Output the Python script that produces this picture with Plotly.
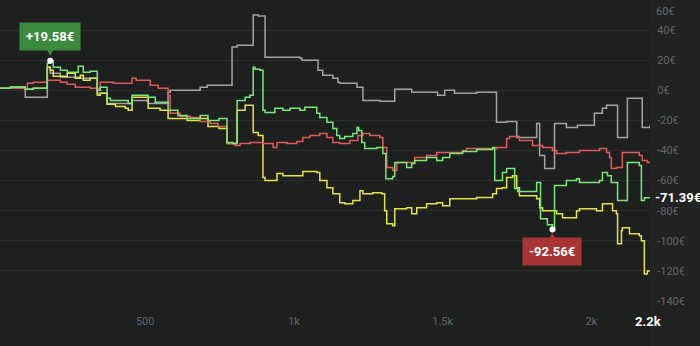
import plotly.graph_objects as go

# ---- data (x = trade index, y = cumulative P/L in €) ----
x_green = [13, 47, 97, 124, 171, 181, 191, 215, 238, 275, 292, 315, 339, 349, 372, 383, 443, 456, 510, 534,
           577, 610, 641, 685, 711, 748, 775, 795, 809, 836, 852, 863, 869, 886, 896, 903, 936, 963, 987, 1020,
           1037, 1077, 1087, 1111, 1131, 1144, 1154, 1171, 1198, 1212, 1218, 1228, 1238, 1279, 1299, 1309, 1332,
           1339, 1379, 1396, 1406, 1446, 1480, 1500, 1524, 1567, 1614, 1668, 1675, 1701, 1715, 1742, 1752, 1816,
           1829, 1852, 1869, 1876, 1916, 1950, 1960, 2027, 2037, 2054, 2067, 2088, 2121, 2161, 2168, 2178, 2197]
y_green = [1.3, 2, 0.7, 1.3, 18, 19.58, 15.3, 13.3, 12, 16, 12, 12.7, 0, 2, -5.3, -6.7, -8.7, -3.3, -4.7, -8,
           -13.3, -16.7, -18.7, -16.7, -20, -18.7, -34.7, -35.3, -6.7, -4.7, -3.3, 15.3, 14, 13.3, -13.3, -14.7,
           -12, -13.3, -12, -13.3, -11.3, -15.3, -18, -21.3, -25.3, -30, -32, -30.7, -28.7, -24.7, -26.7, -34.7,
           -38.7, -38, -42, -58.7, -57.3, -48, -51.3, -48.7, -46.7, -44.7, -46.7, -44.7, -42, -40.7, -39.3, -38,
           -60, -54.7, -52, -65.3, -67.3, -61.3, -85.3, -89.3, -92.56, -63.3, -60, -58.7, -61.3, -60, -54.7,
           -56.7, -61.3, -73.3, -48, -50, -73.3, -71.39, -71.39]

x_red = [13, 104, 124, 171, 215, 238, 265, 315, 349, 393, 456, 470, 517, 544, 577, 584, 617, 651, 685, 718,
         745, 775, 802, 819, 852, 896, 930, 943, 977, 1010, 1030, 1054, 1087, 1111, 1131, 1154, 1188, 1215,
         1232, 1255, 1289, 1299, 1312, 1332, 1346, 1389, 1406, 1446, 1480, 1567, 1580, 1681, 1715, 1725, 1758,
         1802, 1836, 1869, 1883, 1916, 1960, 2027, 2051, 2061, 2067, 2084, 2104, 2138, 2161, 2171, 2188, 2197]
y_red = [1.3, 4.7, 5.3, 6.7, 5.3, 4, 2, 1.3, 5.3, 4.7, 8, 6.7, 3.3, 1.3, -3.3, -15.3, -17.3, -18, -20.7, -22,
         -24, -35.3, -36.7, -35.3, -34.7, -35.3, -38, -34.7, -35.3, -34, -31.3, -30, -28.7, -31.3, -34.7, -35.3,
         -33.3, -30, -28.7, -30, -31.3, -38, -51.3, -53.3, -48, -48, -44.7, -43.3, -41.3, -40, -38.7, -38, -32,
         -30.7, -33.3, -36.7, -38, -40, -42, -41.3, -40, -38.7, -41.3, -44.7, -52, -51.3, -41.3, -41.3, -43.3,
         -46.7, -48, -47]

x_yellow = [13, 47, 97, 124, 171, 181, 191, 238, 265, 282, 292, 315, 339, 349, 372, 400, 433, 443, 456, 510,
            550, 577, 641, 685, 711, 748, 775, 809, 836, 863, 880, 896, 903, 943, 963, 1030, 1077, 1087, 1111,
            1131, 1154, 1171, 1198, 1222, 1232, 1265, 1295, 1305, 1312, 1332, 1339, 1379, 1396, 1413, 1446, 1480,
            1500, 1524, 1614, 1668, 1681, 1701, 1715, 1735, 1749, 1758, 1816, 1826, 1836, 1883, 1903, 1950, 1960,
            2017, 2037, 2071, 2084, 2088, 2101, 2104, 2128, 2161, 2168, 2178, 2188, 2197]
y_yellow = [1.3, 2, 0.7, 1.3, 15.3, 13.3, 9.3, 11.3, 8, 10, 6.7, 8, -3.3, -2, -9.3, -10.7, -12, -13.3, -4.7,
            -12, -13.3, -18.7, -20, -18.7, -24, -25.3, -35.3, -13.3, -10, -28, -30, -58, -60, -55.3, -56.7, -54,
            -54.7, -60, -64.7, -68.7, -74.7, -75.3, -73.3, -66.7, -68.7, -68, -68.7, -80, -88.7, -90, -78.7, -78,
            -82, -78, -75.3, -74.7, -76.7, -72, -71.3, -68.7, -65.3, -64.7, -58, -56.7, -64.7, -70, -72, -78, -80,
            -82, -84.7, -80, -78.7, -80, -75.3, -80, -82, -102, -93.3, -91.3, -95.3, -96.7, -100, -122, -120, -120]

x_gray = [13, 47, 97, 171, 181, 215, 282, 339, 372, 456, 510, 577, 584, 685, 708, 792, 809, 863, 880, 903,
          1020, 1027, 1081, 1097, 1131, 1148, 1154, 1212, 1232, 1289, 1339, 1396, 1483, 1507, 1540, 1614, 1681,
          1715, 1749, 1816, 1826, 1843, 1876, 1916, 1953, 2010, 2037, 2051, 2088, 2121, 2171, 2197]
y_gray = [1.3, 2, -4.7, 15.3, 11.3, 8.7, 8, -2, -8.7, -6.7, -8.7, -1.3, 0, 2, 3.3, 28.7, 30, 50, 49.3, 22,
          21.3, 20, 13.3, 10, 8, 5.3, 4.7, 2, -6.7, -7.3, 0.7, -1.3, -3.3, 0, -2, -1.3, -21.3, -20.7, -31.3,
          -22, -43.3, -52, -22, -24.7, -23.3, -15.3, -12, -10, -31.3, -5.3, -24.7, -23.3]

y_ticks = [40, 20, 0, -20, -40, -60, -80, -100, -120, -140]
y_tick_labels = ["40€", "20€", "0€", "-20€", "-40€", "-60€", "-80€", "-100€", "-120€", "-140€"]
x_ticks = [500, 1000, 1500, 2000]
x_tick_labels = ["500", "1k", "1.5k", "2k"]

max_x, max_y, max_label = 181, 19.58, "+19.58€"
min_x, min_y, min_label = 1869, -92.56, "-92.56€"
last_label = "-71.39€"
last_y = -71.39
last_x_label = "2.2k"

BG = "#1e1f1f"
GRID = "#2c2d2d"
TICK = "#646565"
GREEN_BOX = "#3b8a3e"
RED_BOX = "#a83434"

fig = go.Figure()
series = [
    (x_gray, y_gray, "#a3a3a3"),
    (x_yellow, y_yellow, "#e4e446"),
    (x_red, y_red, "#e05a5a"),
    (x_green, y_green, "#78e878"),
]
for xs, ys, col in series:
    fig.add_trace(go.Scatter(x=xs, y=ys, mode="lines", line=dict(color=col, width=1.5, shape="hv"),
                             hoverinfo="skip", showlegend=False))

fig.add_trace(go.Scatter(x=[max_x, min_x], y=[max_y, min_y], mode="markers",
                         marker=dict(color="white", size=6), hoverinfo="skip", showlegend=False))

ann = []
# max label
ann.append(dict(x=max_x, y=max_y, xref="x", yref="y", text="<b>" + max_label + "</b>", showarrow=False,
                yshift=24, bgcolor=GREEN_BOX, borderpad=6, font=dict(color="white", size=13, family="Roboto")))
ann.append(dict(x=max_x, y=max_y, xref="x", yref="y", text="▼", showarrow=False, yshift=8,
                font=dict(color=GREEN_BOX, size=8, family="DejaVu Sans")))
# min label
ann.append(dict(x=min_x, y=min_y, xref="x", yref="y", text="<b>" + min_label + "</b>", showarrow=False,
                yshift=-22, bgcolor=RED_BOX, borderpad=6, font=dict(color="white", size=13, family="Roboto")))
ann.append(dict(x=min_x, y=min_y, xref="x", yref="y", text="▲", showarrow=False, yshift=-6,
                font=dict(color=RED_BOX, size=8, family="DejaVu Sans")))
# last value on y axis
ann.append(dict(x=1, y=last_y, xref="paper", yref="y", xanchor="left", text="<b>" + last_label + "</b>",
                showarrow=False, xshift=3, font=dict(color="white", size=13, family="Roboto")))
# top tick label (pushed inside)
ann.append(dict(x=1, y=60, xref="paper", yref="y", xanchor="left", yanchor="middle", text="60€",
                showarrow=False, xshift=4, yshift=-11, font=dict(color=TICK, size=11, family="Roboto")))
# zero x label at the left edge
ann.append(dict(x=0, y=0, xref="paper", yref="paper", xanchor="center", yanchor="top", text="0",
                showarrow=False, xshift=-3, yshift=-12, font=dict(color=TICK, size=11, family="Roboto")))
# last x label
ann.append(dict(x=2197, y=0, xref="x", yref="paper", yanchor="top", text="<b>" + last_x_label + "</b>",
                showarrow=False, yshift=-11, xshift=-2, font=dict(color="white", size=13, family="Roboto")))

fig.update_layout(
    width=700, height=346,
    margin=dict(l=0, r=50, t=0, b=45),
    paper_bgcolor=BG, plot_bgcolor=BG,
    annotations=ann,
    shapes=[dict(type="rect", xref="paper", yref="paper", x0=1, x1=1.08, y0=-0.15, y1=1,
                 fillcolor="#212222", line=dict(width=0), layer="below")],
    xaxis=dict(range=[12, 2197], tickvals=x_ticks, ticktext=x_tick_labels, showgrid=False, zeroline=False,
               showline=False, ticks="outside", ticklen=10, tickcolor="rgba(0,0,0,0)",
               tickfont=dict(color=TICK, size=11, family="Roboto")),
    yaxis=dict(range=[-140, 60], side="right", tickvals=[60] + y_ticks, ticktext=[""] + y_tick_labels,
               showgrid=True, gridcolor=GRID, gridwidth=1, zeroline=False, showline=False,
               ticks="outside", ticklen=4, tickcolor="rgba(0,0,0,0)",
               tickfont=dict(color=TICK, size=11, family="Roboto")),
)

fig.write_html("out.html")
